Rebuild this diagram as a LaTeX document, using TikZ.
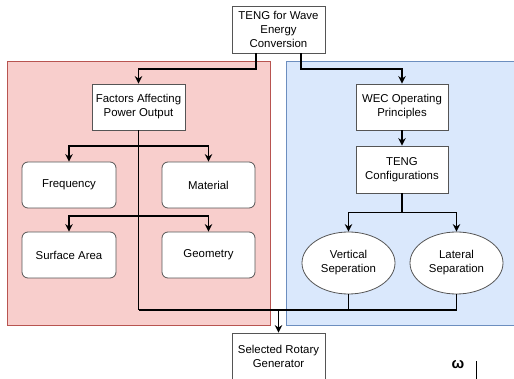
\documentclass[tikz,border=0pt]{standalone}
\usepackage{fontspec}
\setmainfont{Liberation Sans}
\usetikzlibrary{shapes.geometric,arrows.meta}
\definecolor{redfill}{HTML}{F8CECC}
\definecolor{redline}{HTML}{B85450}
\definecolor{bluefill}{HTML}{DAE8FC}
\definecolor{blueline}{HTML}{6C8EBF}
\definecolor{boxline}{HTML}{555555}
\tikzset{
  every node/.style={font=\fontsize{11.4}{14}\selectfont, align=center, inner sep=0pt},
  plainbox/.style={draw=boxline, line width=0.8pt, fill=white, rectangle, minimum width=93pt, minimum height=46pt},
  roundbox/.style={plainbox, rounded corners=6pt},
  ovalbox/.style={draw=boxline, line width=0.8pt, fill=white, ellipse, minimum width=93pt, minimum height=62pt},
  link/.style={line width=1.4pt, black},
  arrowlink/.style={link, -{Stealth[length=7.5pt,width=7.5pt]}},
}
\begin{document}
\begin{tikzpicture}[x=1pt,y=-1pt]
\useasboundingbox (0,0) rectangle (514,379);

% background panels
\fill[redfill] (7,61) rectangle (270,325);
\draw[redline, line width=0.9pt] (7,325) -- (7,61) -- (270,61) -- (270,325) -- cycle;
\fill[bluefill] (286,61) rectangle (514,325);
\draw[blueline, line width=0.9pt] (514,61) -- (286,61) -- (286,325) -- (514,325);

% boxes
\node[plainbox, minimum height=47pt] (teng) at (278.5,29.5) {TENG for Wave\\Energy\\Conversion};
\node[plainbox] (factors) at (138.5,107) {Factors Affecting\\Power Output};
\node[plainbox, minimum width=92pt] (wec) at (402,107) {WEC Operating\\Principles};
\node[plainbox, minimum width=92pt, minimum height=47pt] (config) at (402,169.5) {TENG\\Configurations};
\node[roundbox, minimum width=94pt] (freq) at (69,185) {Frequency};
\node[roundbox] (mat) at (208.5,185) {Material};
\node[roundbox, minimum width=94pt] (surf) at (69,255) {Surface Area};
\node[roundbox] (geom) at (208.5,255) {Geometry};
\node[ovalbox] (vert) at (348.5,263) {Vertical\\Seperation};
\node[ovalbox] (lat) at (456.5,263) {Lateral\\Separation};
\node[plainbox, minimum height=47pt] (rotary) at (278.5,356.5) {Selected Rotary\\Generator};

% junction points
\coordinate (bus) at (278.5,310);

% top box to the two branches
\draw[arrowlink] ([xshift=-22.5pt]teng.south) |- ++(0,15.5) -| (factors.north);
\draw[arrowlink] ([xshift=22.5pt]teng.south) |- ++(0,15.5) -| (wec.north);

% factors branch
\draw[link] (factors.south) -- (factors.south |- bus);
\draw[arrowlink] (factors.south |- 0,146) -| (freq.north);
\draw[arrowlink] (factors.south |- 0,146) -| (mat.north);
\draw[arrowlink] (factors.south |- 0,216) -| (surf.north);
\draw[arrowlink] (factors.south |- 0,216) -| (geom.north);

% operating principles branch
\draw[arrowlink] (wec.south) -- (config.north);
\draw[arrowlink] (config.south) |- ++(0,19) -| (vert.north);
\draw[arrowlink] (config.south) |- ++(0,19) -| (lat.north);

% collecting line to the generator
\draw[link] (vert.south) -- (vert.south |- bus);
\draw[link] (lat.south) |- (factors.south |- bus);
\draw[arrowlink] (bus) -- (rotary.north);

% angular speed mark
\node[font=\fontsize{15}{16}\selectfont\bfseries] (omega) at (458,365) {ω};
\draw[line width=0.8pt] (476,361) -- (476,379);
\end{tikzpicture}
\end{document}
